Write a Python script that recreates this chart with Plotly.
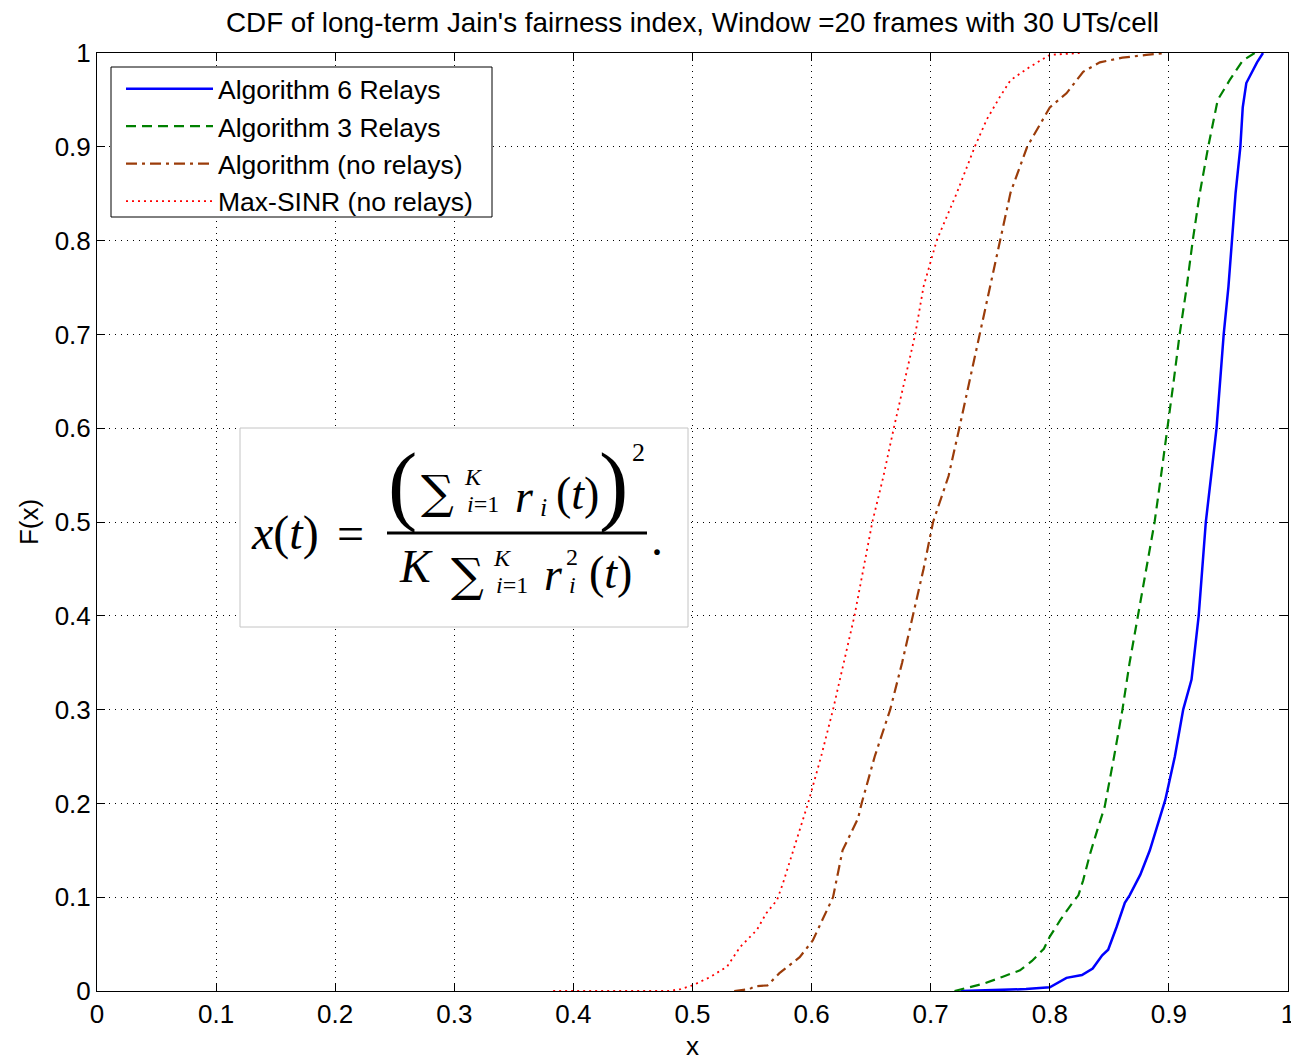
import plotly.graph_objects as go

# ---------------- data ----------------
alg6_x = [0.725, 0.75, 0.78, 0.800, 0.814, 0.827, 0.836, 0.844, 0.849, 0.856, 0.863, 0.867,
          0.876, 0.884, 0.892, 0.897, 0.905, 0.912, 0.919, 0.925, 0.928, 0.931, 0.936,
          0.940, 0.943, 0.946, 0.950, 0.953, 0.956, 0.960, 0.962, 0.965, 0.974, 0.979]
alg6_y = [0.0, 0.001, 0.002, 0.004, 0.014, 0.017, 0.024, 0.038, 0.044, 0.068, 0.094, 0.102,
          0.124, 0.150, 0.182, 0.204, 0.25, 0.30, 0.332, 0.40, 0.45, 0.50, 0.555,
          0.60, 0.65, 0.70, 0.751, 0.80, 0.851, 0.90, 0.942, 0.968, 0.990, 1.0]

alg3_x = [0.720, 0.730, 0.745, 0.760, 0.775, 0.785, 0.795, 0.800, 0.809, 0.819, 0.824, 0.828,
          0.834, 0.840, 0.846, 0.854, 0.861, 0.867, 0.874, 0.881, 0.888, 0.894, 0.899,
          0.904, 0.909, 0.915, 0.920, 0.926, 0.933, 0.941, 0.951, 0.962, 0.972]
alg3_y = [0.0, 0.003, 0.008, 0.015, 0.022, 0.032, 0.045, 0.058, 0.076, 0.094, 0.102, 0.118,
          0.147, 0.172, 0.196, 0.25, 0.30, 0.35, 0.40, 0.45, 0.50, 0.555, 0.60,
          0.65, 0.70, 0.751, 0.80, 0.851, 0.90, 0.95, 0.971, 0.992, 1.0]

alg0_x = [0.535, 0.548, 0.552, 0.563, 0.573, 0.590, 0.601, 0.618, 0.626, 0.639, 0.642, 0.653,
          0.666, 0.676, 0.685, 0.694, 0.702, 0.715, 0.724, 0.741, 0.750, 0.758, 0.767,
          0.781, 0.800, 0.814, 0.828, 0.842, 0.861, 0.881, 0.898]
alg0_y = [0.0, 0.002, 0.005, 0.006, 0.019, 0.036, 0.054, 0.10, 0.15, 0.184, 0.20, 0.25,
          0.30, 0.35, 0.40, 0.45, 0.50, 0.549, 0.60, 0.70, 0.751, 0.80, 0.851,
          0.90, 0.942, 0.957, 0.980, 0.990, 0.995, 0.998, 1.0]

maxsinr_x = [0.383, 0.430, 0.480, 0.490, 0.500, 0.515, 0.529, 0.540, 0.554, 0.562, 0.571, 0.576,
             0.582, 0.593, 0.597, 0.608, 0.618, 0.627, 0.636, 0.651, 0.660, 0.669, 0.687,
             0.694, 0.705, 0.722, 0.737, 0.747, 0.758, 0.767, 0.783, 0.800, 0.825]
maxsinr_y = [0.0, 0.0, 0.0, 0.002, 0.006, 0.015, 0.026, 0.047, 0.065, 0.083, 0.097, 0.115,
             0.140, 0.186, 0.20, 0.25, 0.30, 0.35, 0.40, 0.50, 0.547, 0.60, 0.70,
             0.751, 0.80, 0.851, 0.90, 0.929, 0.953, 0.971, 0.985, 0.998, 1.0]

series_names = ["Algorithm 6 Relays", "Algorithm 3 Relays",
                "Algorithm (no relays)", "Max-SINR (no relays)"]

x_ticks = [0, 0.1, 0.2, 0.3, 0.4, 0.5, 0.6, 0.7, 0.8, 0.9, 1]
x_tick_labels = ["0", "0.1", "0.2", "0.3", "0.4", "0.5", "0.6", "0.7", "0.8", "0.9", "1"]
y_ticks = [0, 0.1, 0.2, 0.3, 0.4, 0.5, 0.6, 0.7, 0.8, 0.9, 1]
y_tick_labels = ["0", "0.1", "0.2", "0.3", "0.4", "0.5", "0.6", "0.7", "0.8", "0.9", "1"]

title_text = "CDF of long-term Jain's fairness index, Window =20 frames with 30 UTs/cell"

# ---------------- layout geometry ----------------
W, H = 1291, 1061
L, R, T, B = 97, 1288, 53, 991   # plot area in pixels


def px2x(px):
    return (px - L) / (R - L)


def px2y(py):
    return (B - py) / (B - T)


SANS = "Liberation Sans, Arial, sans-serif"
SERIF = "Liberation Serif, DejaVu Serif, serif"
BROWN = "rgb(155,60,10)"

fig = go.Figure()
fig.add_trace(go.Scatter(x=alg6_x, y=alg6_y, mode="lines", name=series_names[0],
                         line=dict(color="#0000FF", width=2.5)))
fig.add_trace(go.Scatter(x=alg3_x, y=alg3_y, mode="lines", name=series_names[1],
                         line=dict(color="#008000", width=2.2, dash="10px,6px")))
fig.add_trace(go.Scatter(x=alg0_x, y=alg0_y, mode="lines", name=series_names[2],
                         line=dict(color=BROWN, width=2.2, dash="11px,5px,3px,5px")))
fig.add_trace(go.Scatter(x=maxsinr_x, y=maxsinr_y, mode="lines", name=series_names[3],
                         line=dict(color="#FF0000", width=1.8, dash="2px,4px")))

axis_common = dict(
    range=[0, 1], showgrid=True, gridcolor="black", gridwidth=1, griddash="1px,5px",
    showline=True, linecolor="black", linewidth=1, mirror="ticks",
    ticks="inside", ticklen=8, tickwidth=1, tickcolor="black", zeroline=False,
    tickfont=dict(family=SANS, size=26, color="black"), automargin=False,
    ticklabeloverflow="allow",
)
fig.update_xaxes(tickvals=x_ticks, ticktext=x_tick_labels,
                 title=dict(text="x", font=dict(family=SANS, size=26, color="black"), standoff=11),
                 **axis_common)
fig.update_yaxes(tickvals=y_ticks, ticktext=y_tick_labels,
                 title=dict(text="F(x)", font=dict(family=SANS, size=26, color="black"), standoff=8),
                 **axis_common)

shapes = [
    # legend box
    dict(type="rect", xref="paper", yref="paper", x0=px2x(111), x1=px2x(492),
         y0=px2y(217), y1=px2y(67), line=dict(color="black", width=1),
         fillcolor="white", layer="above"),
    # formula box
    dict(type="rect", xref="x", yref="y", x0=px2x(240), x1=px2x(688),
         y0=px2y(627), y1=px2y(428), line=dict(color="#c4c4c4", width=1),
         fillcolor="white", layer="above"),
    # fraction bar
    dict(type="line", xref="x", yref="y", x0=px2x(387), x1=px2x(647),
         y0=px2y(533), y1=px2y(533), line=dict(color="black", width=3), layer="above"),
]

anns = []


def piece(text, px, py, size, family=SERIF):
    anns.append(dict(text=text, x=px2x(px), y=px2y(py), xref="x", yref="y",
                     showarrow=False, xanchor="center", yanchor="middle",
                     font=dict(family=family, size=size, color="black")))


SIGMA_FONT = "DejaVu Serif, Liberation Serif, serif"
# left side
piece("<i>x</i>(<i>t</i>)", 285, 533, 48)
piece("=", 350, 533, 48)
# numerator
piece("(", 402, 484, 88)
piece("∑", 437, 492, 46, SIGMA_FONT)
piece("<i>K</i>", 473, 477, 24)
piece("<i>i</i>=1", 483, 504, 24)
piece("<i>r</i>", 524, 496, 46)
piece("<i>i</i>", 543, 507, 26)
piece("(<i>t</i>)", 577, 493, 46)
piece(")", 613, 484, 88)
piece("2", 638, 452, 26)
# denominator
piece("<i>K</i>", 416, 566, 46)
piece("∑", 467, 575, 46, SIGMA_FONT)
piece("<i>K</i>", 502, 558, 24)
piece("<i>i</i>=1", 512, 585, 24)
piece("<i>r</i>", 553, 574, 46)
piece("2", 572, 557, 24)
piece("<i>i</i>", 572, 585, 24)
piece("(<i>t</i>)", 610, 572, 46)
piece(".", 657, 538, 48)

fig.update_layout(
    width=W, height=H,
    margin=dict(l=L, r=W - R, t=T, b=H - B, pad=0, autoexpand=False),
    paper_bgcolor="white", plot_bgcolor="white",
    title=dict(text=title_text, x=0.5, xref="paper", xanchor="center",
               y=1 - 22 / H, yref="container", yanchor="middle",
               font=dict(family=SANS, size=27.8, color="black")),
    legend=dict(x=px2x(121), y=px2y(65), xanchor="left", yanchor="top",
                bgcolor="rgba(0,0,0,0)", borderwidth=0,
                font=dict(family=SANS, size=26.5, color="black"),
                itemwidth=87, tracegroupgap=0),
    shapes=shapes, annotations=anns, showlegend=True,
)

fig.write_html("out.html",
               config={"displayModeBar": False},
               post_script="document.body.style.margin='0px';"
                           "document.body.style.overflow='hidden';")
